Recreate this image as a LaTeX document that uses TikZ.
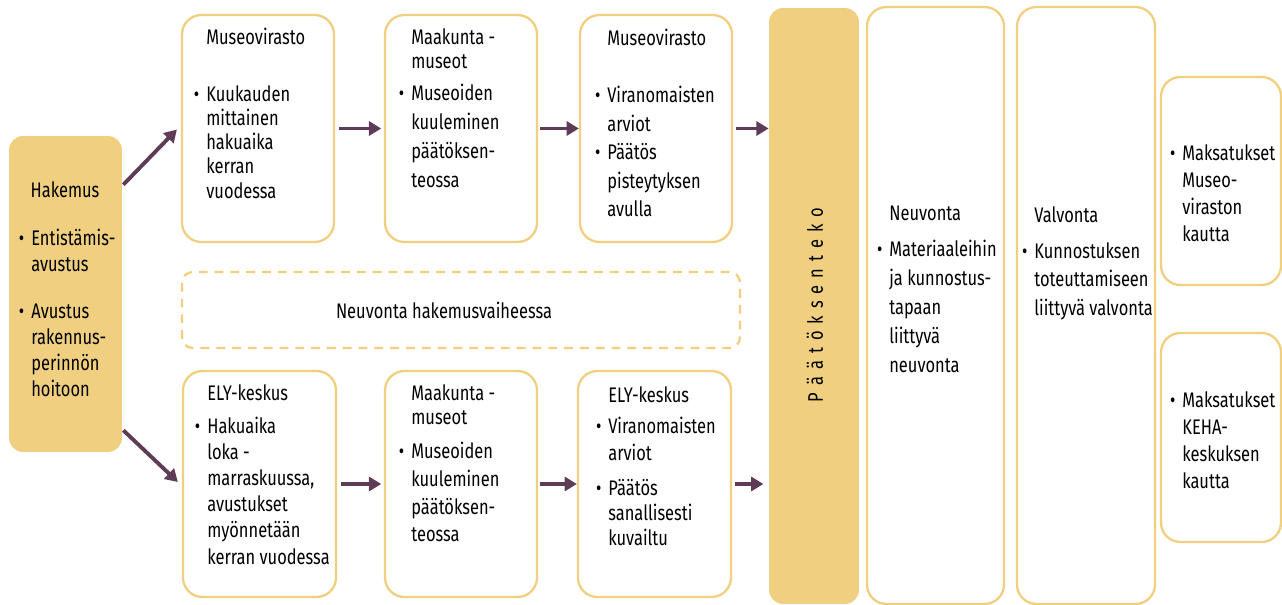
\documentclass[tikz,border=0pt]{standalone}
\usepackage{fontspec}
\setmainfont{Fira Sans}[FakeStretch=0.78]
\usetikzlibrary{arrows.meta}
\definecolor{gold}{RGB}{240,208,128}
\definecolor{plum}{RGB}{94,60,86}
\newcommand{\bul}{\llap{\textbullet\hspace{4pt}}}

\begin{document}
\begin{tikzpicture}[x=0.02cm,y=-0.02cm,
    box/.style={draw=gold, line width=1.3pt, rounded corners=11pt, fill=white, inner sep=0pt},
    gbox/.style={fill=gold, rounded corners=8pt, inner sep=0pt},
    txt/.style={align=left, inner sep=0pt, anchor=north west},
    arr/.style={draw=plum, line width=2.2pt, -{Triangle[length=7pt,width=8pt]}}]
    \useasboundingbox (0,0) rectangle (1282,605);
    \fontsize{12}{14}\selectfont
    % boxes
    \node[gbox, minimum width=2.26cm, minimum height=6.32cm] (hakemus) at (65.5,294) {};
    \node[box, minimum width=3.04cm, minimum height=4.54cm] (mv1) at (258,128.5) {};
    \node[box, minimum width=3.04cm, minimum height=4.54cm] (mk1) at (461,128.5) {};
    \node[box, minimum width=3.04cm, minimum height=4.54cm] (mv2) at (656,128.5) {};
    \node[box, dashed, dash pattern=on 5pt off 4pt, rounded corners=6pt,
          minimum width=11.16cm, minimum height=1.52cm] (neuvh) at (461,310) {};
    \node[box, minimum width=3.06cm, minimum height=4.52cm] (ely1) at (259.5,484) {};
    \node[box, minimum width=3.04cm, minimum height=4.52cm] (mk2) at (461,484) {};
    \node[box, minimum width=3.06cm, minimum height=4.52cm] (ely2) at (654.5,484) {};
    \node[gbox, minimum width=1.8cm, minimum height=11.92cm] (paatos) at (814,306) {};
    \node[box, minimum width=2.74cm, minimum height=11.94cm] (neuv) at (935.5,305.5) {};
    \node[box, minimum width=2.76cm, minimum height=11.94cm] (valv) at (1086,305.5) {};
    \node[box, minimum width=2.4cm, minimum height=4.16cm] (maks1) at (1221,181) {};
    \node[box, minimum width=2.4cm, minimum height=4.18cm] (maks2) at (1221,437.5) {};
    % texts
    \node (hakt) at (65,190) {Hakemus};
    \node[txt, font=\fontsize{12}{14.8}\selectfont] (hakl) at (31,229)
        {\bul Entistämis-\\avustus\\[12pt]\bul Avustus\\rakennus-\\perinnön\\hoitoon};
    \node[txt, font=\fontsize{12}{13.7}\selectfont] (mv1t) at (206,28)
        {Museovirasto\\[18.7pt]\bul Kuukauden\\mittainen\\hakuaika\\kerran\\vuodessa};
    \node[txt, font=\fontsize{12}{16.5}\selectfont] (mk1t) at (411,28)
        {Maakunta -\\[-2.8pt]museot\\[1.7pt]\bul Museoiden\\kuuleminen\\päätöksen-\\teossa};
    \node[txt, font=\fontsize{12}{16.2}\selectfont] (mv2t) at (607,29)
        {Museovirasto\\[16.2pt]\bul Viranomaisten\\arviot\\\bul Päätös\\pisteytyksen\\avulla};
    \node (neuvht) at (444,310) {Neuvonta hakemusvaiheessa};
    \node[txt, font=\fontsize{12}{14.9}\selectfont] (ely1t) at (207,384)
        {ELY-keskus\\[3.9pt]\bul Hakuaika\\loka -\\marraskuussa,\\avustukset\\myönnetään\\kerran vuodessa};
    \node[txt, font=\fontsize{12}{15.9}\selectfont] (mk2t) at (411,384)
        {Maakunta -\\[-2.2pt]museot\\[3.4pt]\bul Museoiden\\kuuleminen\\päätöksen-\\teossa};
    \node[txt, font=\fontsize{12}{14.2}\selectfont] (ely2t) at (608,386)
        {ELY-keskus\\[3.4pt]\bul Viranomaisten\\[1.2pt]arviot\\[5.7pt]\bul Päätös\\sanallisesti\\kuvailtu};
    \node[rotate=90] (paatost) at (815,305)
        {\spaceskip=4pt P ä ä t ö k s e n t e k o};
    \node[txt, font=\fontsize{12}{16.4}\selectfont] (neuvt) at (889,206)
        {Neuvonta\\[4.1pt]\bul Materiaaleihin\\ja kunnostus-\\tapaan\\liittyvä\\neuvonta};
    \node[txt, font=\fontsize{12}{16.4}\selectfont] (valvt) at (1034,206)
        {Valvonta\\[4.1pt]\bul Kunnostuksen\\toteuttamiseen\\liittyvä valvonta};
    \node[txt, font=\fontsize{12}{15.4}\selectfont] (maks1t) at (1182,144)
        {\bul Maksatukset\\Museo-\\viraston\\kautta};
    \node[txt, font=\fontsize{12}{15.4}\selectfont] (maks2t) at (1182,391)
        {\bul Maksatukset\\KEHA-\\keskuksen\\kautta};
    % arrows
    \draw[arr] ([shift={(1,49)}]hakemus.north east) -- ([shift={(-4,1)}]mv1.west);
    \draw[arr] ([shift={(1,-22)}]hakemus.south east) -- ([shift={(-4,-2)}]ely1.west);
    \draw (mv1) edge[arr, shorten <=2pt, shorten >=1.5pt] (mk1);
    \draw (mk1) edge[arr, shorten <=1pt, shorten >=0pt] (mv2);
    \draw[arr, shorten <=1.5pt] (mv2.east) -- (mv2.east -| paatos.west);
    \draw (ely1) edge[arr, shorten <=2pt, shorten >=1.5pt] (mk2);
    \draw (mk2) edge[arr, shorten <=1pt, shorten >=0pt] (ely2);
    \draw[arr, shorten <=1.5pt, shorten >=3pt] (ely2.east) -- (ely2.east -| paatos.west);
\end{tikzpicture}
\end{document}
